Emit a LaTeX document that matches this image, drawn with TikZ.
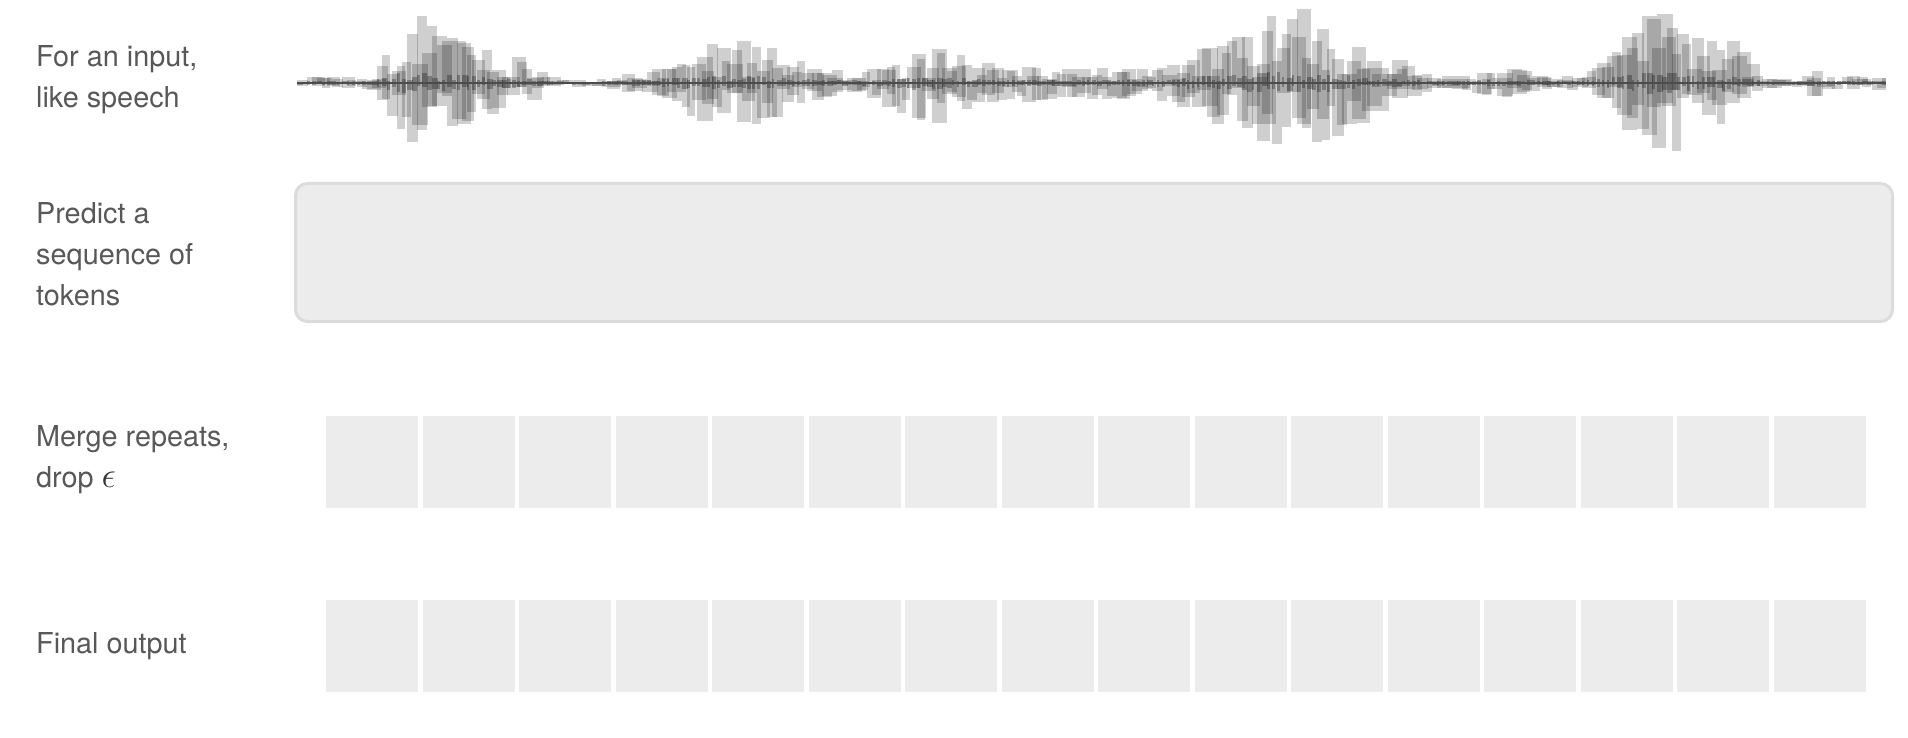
\documentclass[tikz,border=0pt]{standalone}
\usepackage{fontspec}
\usepackage{graphicx}
\setmainfont{TeX Gyre Heros}
\definecolor{labgray}{HTML}{585858}
\definecolor{epsgray}{HTML}{333333}
\definecolor{boxfill}{HTML}{ECECEC}
\definecolor{boxline}{HTML}{DCDCDC}
\definecolor{sqfill}{HTML}{ECECEC}
\begin{document}
\begin{tikzpicture}[x=1pt,y=-1pt,
  lab/.style={anchor=base west,inner sep=0pt,text=labgray,font=\fontsize{28.8}{40}\selectfont},
  predbox/.style={draw=boxline,fill=boxfill,line width=3pt,rounded corners=12pt,
    minimum width=1597pt,minimum height=138pt,inner sep=0pt},
  tok/.style={fill=sqfill,minimum size=92pt,inner sep=0pt},
  wbar/.style={fill=black,fill opacity=0.19},
  wcore/.style={fill=black,fill opacity=0.27},
  declare function={
    gs(\x,\c,\w)=exp(-(min(abs(\x-\c)/\w,4)*min(abs(\x-\c)/\w,4)));
    env(\x)=2.5+5*gs(\x,320,30)
      +52*gs(\x,405,25)+45*gs(\x,455,50)+12*gs(\x,515,25)
      +42*gs(\x,730,80)
      +38*gs(\x,925,55)+14*gs(\x,1020,35)+14*gs(\x,1100,60)
      +30*gs(\x,1210,50)+72*gs(\x,1290,55)+25*gs(\x,1370,40)
      +12*gs(\x,1500,60)
      +35*gs(\x,1620,30)+70*gs(\x,1662,30)+45*gs(\x,1722,30)
      +15*gs(\x,1807,8)+6*gs(\x,1850,50);
  }]
\useasboundingbox (0,0) rectangle (1908,738);
\fill[white] (0,0) rectangle (1908,738);

% labels
\node[lab] (l1a) at (36,66.5) {For an input,};
\node[lab] (l1b) at (36,108) {like speech};
\node[lab] (l2a) at (36,223) {Predict a};
\node[lab] (l2b) at (36,264) {sequence of};
\node[lab] (l2c) at (36,305) {tokens};
\node[lab] (l3a) at (36,446) {Merge repeats,};
\node[lab] (l3b) at (36,487) {drop \textcolor{epsgray}{\scalebox{1.45}{$\epsilon$}}};
\node[lab] (l4a) at (36,653) {Final output};

% waveform
\pgfmathsetseed{12}
\foreach \i in {0,...,317}{
  \pgfmathsetmacro\xx{297+\i*5}
  \pgfmathsetmacro\en{env(\xx)}
  \pgfmathsetmacro\wa{min(8+8*rnd,1886-\xx)}
  \pgfmathsetmacro\ua{\en*(0.08+0.92*rnd)}
  \pgfmathsetmacro\da{\en*(0.08+0.92*rnd)}
  \fill[wbar] (\xx,83-\ua) rectangle (\xx+\wa,83+\da);
  \pgfmathsetmacro\wc{min(2+4*rnd,1886-\xx)}
  \pgfmathsetmacro\uc{(0.02+0.13*rnd)*\en+1}
  \pgfmathsetmacro\dc{(0.02+0.13*rnd)*\en+1}
  \fill[wcore] (\xx,83-\uc) rectangle (\xx+\wc,83+\dc);
}
\draw[line width=1.3pt,black!70] (297,83) -- (1886,83);

% predicted token sequence box
\node[predbox] (pred) at (1094,252.5) {};

% token rows
\foreach \k in {0,...,15}{
  \node[tok] (m\k) at (372+\k*96.53,462) {};
  \node[tok] (f\k) at (372+\k*96.53,646) {};
}
\end{tikzpicture}
\end{document}
